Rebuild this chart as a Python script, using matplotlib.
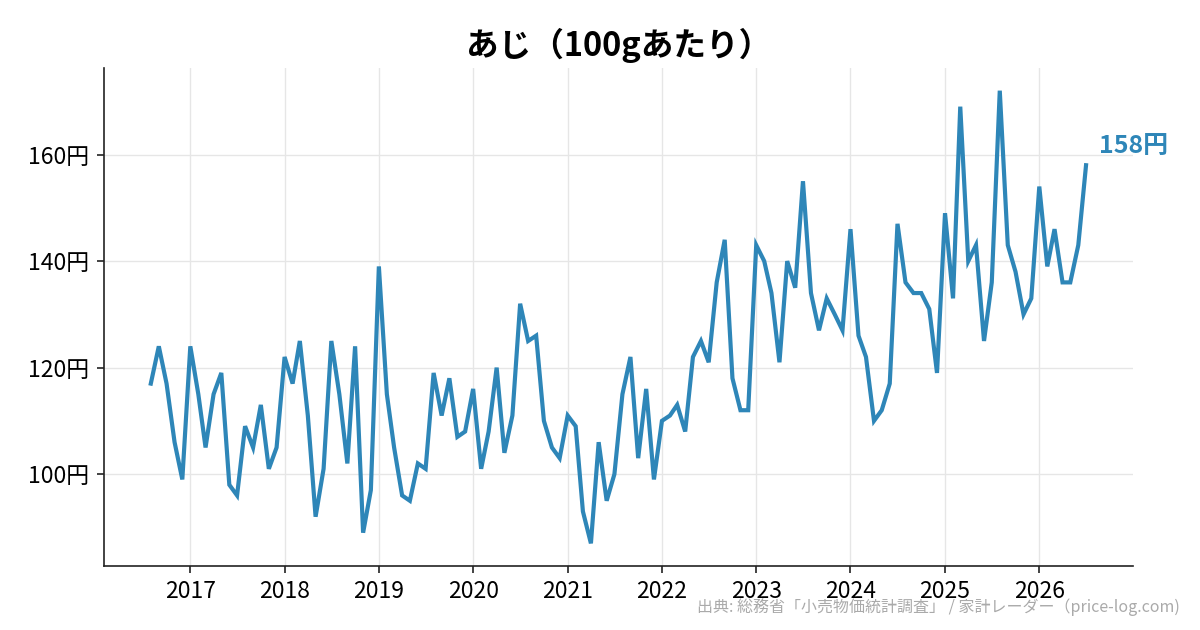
import matplotlib
matplotlib.use("Agg")
import matplotlib.pyplot as plt
import matplotlib.dates as mdates
import pandas as pd

plt.rcParams['font.family'] = ['Noto Sans CJK JP', 'DejaVu Sans']

start_month = "2016-08"
prices = [
    117, 124, 117, 106, 99,
    124, 115, 105, 115, 119, 98, 96, 109, 105, 113, 101, 105,
    122, 117, 125, 111, 92, 101, 125, 115, 102, 124, 89, 97,
    139, 115, 105, 96, 95, 102, 101, 119, 111, 118, 107, 108,
    116, 101, 108, 120, 104, 111, 132, 125, 126, 110, 105, 103,
    111, 109, 93, 87, 106, 95, 100, 115, 122, 103, 116, 99,
    110, 111, 113, 108, 122, 125, 121, 136, 144, 118, 112, 112,
    143, 140, 134, 121, 140, 135, 155, 134, 127, 133, 130, 127,
    146, 126, 122, 110, 112, 117, 147, 136, 134, 134, 131, 119,
    149, 133, 169, 140, 143, 125, 136, 172, 143, 138, 130, 133,
    154, 139, 146, 136, 136, 143, 158,
]
dates = pd.date_range(start_month, periods=len(prices), freq="MS")
yticks = [100, 120, 140, 160]
title = "あじ（100gあたり）"
source = "出典: 総務省「小売物価統計調査」 / 家計レーダー（price-log.com)"
color = "#2E86B8"

fig = plt.figure(figsize=(12, 6.3), dpi=100)
ax = fig.add_axes([0.0867, 0.1016, 0.8573, 0.7904])
ax.plot(dates, prices, color=color, linewidth=3.0, solid_joinstyle="miter")
ax.margins(x=0.05, y=0.05)

ax.xaxis.set_major_locator(mdates.YearLocator())
ax.xaxis.set_major_formatter(mdates.DateFormatter("%Y"))
ax.set_yticks(yticks)
ax.set_yticklabels([f"{v}円" for v in yticks])
ax.tick_params(labelsize=16.5, length=5, width=1.2, color="#222222")
ax.tick_params(axis="x", pad=5)
ax.tick_params(axis="y", pad=6)
ax.grid(True, color="#e6e6e6", linewidth=1)
ax.set_axisbelow(True)
for s in ["top", "right"]:
    ax.spines[s].set_visible(False)
for s in ["left", "bottom"]:
    ax.spines[s].set_linewidth(1.2)
    ax.spines[s].set_color("#222222")

ax.set_title(title, fontsize=23.5, fontweight="bold", pad=9)
ax.annotate(f"{prices[-1]}円", xy=(dates[-1], prices[-1]), xytext=(9, 14),
            textcoords="offset points", color=color, fontsize=18,
            fontweight="bold", va="center", ha="left", annotation_clip=False)
fig.text(0.983, 0.022, source, ha="right", va="bottom", fontsize=11.5, color="#aaaaaa")

fig.savefig("out.png", dpi=100)
